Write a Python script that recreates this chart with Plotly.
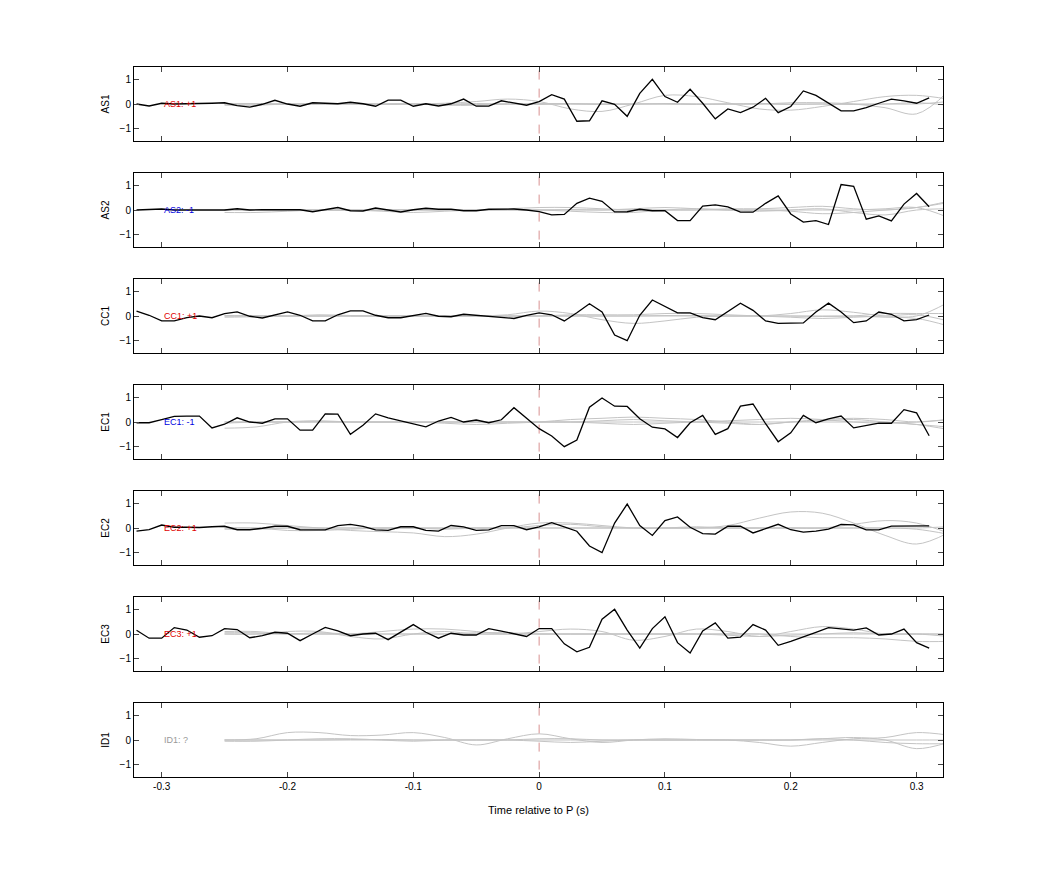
import numpy as np
import plotly.graph_objects as go

# station names, polarity labels and colours
stations = ['AS1', 'AS2', 'CC1', 'EC1', 'EC2', 'EC3', 'ID1']
labels = ['AS1: +1', 'AS2: -1', 'CC1: +1', 'EC1: -1', 'EC2: +1', 'EC3: +1', 'ID1: ?']
label_colors = ['#e00000', '#0000e0', '#e00000', '#0000e0', '#e00000', '#e00000', '#999999']

# time axis of the observed traces (s)
t_obs = np.round(np.arange(-0.32, 0.315, 0.01), 2)
# knots of the synthetic (grey) traces
t_syn = np.round(np.arange(-0.25, 0.33, 0.025), 3)

as1 = [0, -0.08, 0.03, 0, 0.01, 0.01, 0.03, 0.05, -0.07, -0.13, -0.01, 0.15, 0, -0.09, 0.05, 0.03,
       0.01, 0.07, 0.01, -0.09, 0.16, 0.16, -0.09, 0.01, -0.08, 0.01, 0.2, -0.09, -0.09, 0.13, 0.03, -0.05,
       0.1, 0.38, 0.2, -0.7, -0.68, 0.13, -0.01, -0.5, 0.43, 1.0, 0.3, 0.07, 0.6, 0.03, -0.6, -0.2,
       -0.35, -0.13, 0.23, -0.35, -0.1, 0.53, 0.35, 0.05, -0.28, -0.28, -0.15, 0.03, 0.2, 0.13, 0.03, 0.25]
as2 = [0, 0.03, 0.04, 0, 0, -0.03, 0, 0, 0.05, 0, 0.01, 0.01, 0.01, 0.01, -0.07, 0.03,
       0.1, -0.03, -0.04, 0.08, 0.01, -0.08, 0.01, 0.07, 0.03, 0.03, -0.03, -0.03, 0.03, 0.05, 0.04, 0,
       -0.07, -0.2, -0.18, 0.27, 0.48, 0.35, -0.08, -0.07, 0.03, -0.03, -0.03, -0.43, -0.43, 0.16, 0.21, 0.13,
       -0.09, -0.09, 0.27, 0.57, -0.16, -0.49, -0.43, -0.59, 1.03, 0.96, -0.37, -0.24, -0.44, 0.24, 0.67, 0.13]
cc1 = [0.2, 0.03, -0.2, -0.2, -0.07, 0, -0.07, 0.1, 0.17, -0.01, -0.08, 0.05, 0.17, 0.03, -0.2, -0.2,
       0.05, 0.21, 0.21, 0.03, -0.07, -0.07, 0.03, 0.11, -0.01, -0.03, 0.07, 0.03, -0.01, -0.07, -0.1, 0.03,
       0.13, 0.05, -0.2, 0.13, 0.5, 0.16, -0.77, -1.0, 0.03, 0.65, 0.4, 0.13, 0.13, -0.07, -0.15, 0.2,
       0.52, 0.23, -0.2, -0.3, -0.3, -0.28, 0.16, 0.52, 0.16, -0.27, -0.2, 0.16, 0.07, -0.2, -0.15, 0.04]
ec1 = [-0.03, -0.03, 0.1, 0.23, 0.24, 0.24, -0.24, -0.09, 0.17, 0, -0.05, 0.13, 0.13, -0.33, -0.33, 0.33,
       0.32, -0.5, -0.13, 0.33, 0.17, 0.04, -0.09, -0.2, 0.04, 0.19, 0, 0.08, -0.03, 0.09, 0.58, 0.17,
       -0.27, -0.57, -1.0, -0.73, 0.6, 0.97, 0.64, 0.63, 0.13, -0.21, -0.28, -0.63, -0.03, 0.27, -0.5, -0.27,
       0.64, 0.73, -0.07, -0.8, -0.44, 0.27, -0.03, 0.13, 0.24, -0.24, -0.16, -0.05, -0.05, 0.5, 0.37, -0.56]
ec2 = [-0.13, -0.07, 0.12, 0.03, 0.03, 0.02, 0.05, 0.07, -0.07, -0.07, -0.01, 0.07, 0.07, -0.07, -0.08, -0.08,
       0.1, 0.15, 0.07, -0.08, -0.1, 0.05, 0.05, -0.1, -0.13, 0.1, 0.05, -0.1, -0.08, 0.1, 0.1, -0.07,
       0.05, 0.22, 0.05, -0.13, -0.73, -1.0, 0.2, 0.97, 0.1, -0.3, 0.3, 0.45, 0.03, -0.23, -0.25, 0.07,
       0.07, -0.2, -0.03, 0.15, -0.07, -0.17, -0.13, -0.05, 0.15, 0.13, -0.08, -0.08, 0.08, 0.08, 0.09, 0.09]
ec3 = [0.15, -0.17, -0.17, 0.26, 0.16, -0.13, -0.07, 0.22, 0.18, -0.15, -0.07, 0.07, 0.03, -0.27, 0, 0.27,
       0.13, -0.07, 0, 0.03, -0.23, 0.07, 0.38, 0.07, -0.17, 0.03, -0.04, -0.04, 0.22, 0.12, 0, -0.1,
       0.22, 0.22, -0.4, -0.72, -0.54, 0.6, 1.0, 0.16, -0.57, 0.22, 0.7, -0.35, -0.77, 0.12, 0.45, -0.17,
       -0.13, 0.38, 0.16, -0.46, -0.3, -0.13, 0.07, 0.26, 0.2, 0.16, 0.25, -0.04, 0, 0.2, -0.35, -0.57]
observed = [as1, as2, cc1, ec1, ec2, ec3, None]

# synthetic traces (grey), four per station
syn_as1 = [[0, 0, 0, 0, 0, 0, 0, 0.03, 0.1, 0.2, 0.1, -0.2, -0.3, 0, 0.35, 0.3, 0.05, -0.2, -0.25, -0.1, 0.1, 0.3, 0.35, 0.2],
           [-0.05, -0.05, 0, 0, 0, 0, 0, -0.05, -0.05, 0, 0, 0, 0, 0, 0, 0, 0, 0, 0.05, 0.05, 0, -0.15, -0.4, 0.5],
           [0.02, 0.02, 0, 0, 0.02, 0, 0, 0, 0.02, 0, 0.02, 0.02, 0, 0, 0.02, 0, 0, 0.02, 0, 0, 0, 0, 0.05, -0.05],
           [-0.02, 0, -0.02, 0, 0, -0.02, 0, -0.02, -0.02, 0, -0.02, 0, -0.02, 0, 0, -0.02, 0, 0, -0.02, 0, -0.02, 0, 0, 0.1]]
syn_as2 = [[-0.1, -0.1, -0.05, 0, 0, -0.05, -0.1, -0.05, 0, 0.05, 0.1, 0.1, 0.05, 0, 0, 0, 0.05, 0.05, 0.1, 0.15, 0.05, 0, 0.1, 0.3],
           [0, 0, 0, 0, 0, 0, 0, 0, 0, 0, 0, -0.05, -0.1, -0.1, 0, 0.05, 0, -0.05, 0, 0.05, -0.1, -0.2, 0, 0.05],
           [0, 0, 0.02, 0, 0, 0, 0.02, 0, 0, 0.02, 0, 0.02, 0, 0.05, 0.1, 0.05, 0, 0, -0.05, -0.15, -0.1, 0, 0.1, 0.35],
           [0, 0.02, 0, 0, -0.02, 0, 0, 0, 0, 0, 0, 0, 0, 0, 0, 0, 0, 0, 0, 0, 0, 0.05, 0.1, -0.3]]
syn_cc1 = [[0, 0, 0, 0, 0, 0, 0, 0, 0, 0.05, 0.2, 0.1, -0.15, -0.3, -0.2, -0.05, 0, 0, 0.1, 0.25, 0.15, 0, 0, 0.55],
           [0, 0, 0, 0, 0, 0, 0, 0, 0, 0, 0, 0.05, 0.05, 0.05, 0.1, 0.1, 0.05, 0, -0.05, -0.1, -0.05, 0, 0.05, -0.2],
           [0.02, 0.02, 0, 0.05, 0.02, 0, 0, 0, 0, 0, 0, 0, 0, 0, 0.02, 0.02, 0, 0, 0, -0.02, 0, 0.1, 0.1, 0.1],
           [-0.05, -0.03, 0, 0, 0, 0, 0, 0, 0, 0, 0, 0, 0, 0, 0, 0, 0, 0, 0, 0, 0, -0.05, -0.1, -0.4]]
syn_ec1 = [[-0.25, -0.2, 0, 0.05, 0, 0, 0, -0.05, -0.1, -0.05, 0, 0.1, 0.15, 0.2, 0.15, 0.1, 0, -0.1, 0, 0.1, 0.15, 0.1, 0, 0.1],
           [0, 0, 0, 0, 0, 0, 0, 0, 0, 0, 0, 0, 0.05, 0.1, 0.05, 0, -0.05, -0.1, 0, 0.05, 0.1, 0, -0.1, -0.2],
           [0, 0, 0, 0.02, 0, 0, 0, 0, 0, 0, 0, 0, 0, 0, 0, 0, 0.05, 0.1, 0.15, 0.1, 0, -0.05, 0, 0.1],
           [-0.05, 0, 0, 0, 0, 0, 0, 0, 0, 0, 0, 0, -0.05, -0.1, -0.05, 0, 0, 0, 0, 0, 0, 0, -0.1, -0.3]]
syn_ec2 = [[0, 0, 0, 0, 0, 0, 0, 0, 0, 0, 0, 0, 0, 0, 0, 0, 0.1, 0.4, 0.65, 0.6, 0.2, -0.3, -0.65, -0.2],
           [0.2, 0.2, 0.1, 0, -0.1, -0.15, -0.2, -0.35, -0.25, 0, 0.2, 0.2, 0.1, 0, 0, 0, 0, 0, 0, 0, 0.15, 0.3, 0.2, -0.2],
           [0, 0, -0.1, -0.1, -0.05, 0, 0, -0.05, 0, 0, 0.1, 0.15, 0.05, 0, 0, 0.05, 0, 0, 0, 0, 0, 0, 0, 0.05],
           [-0.05, -0.05, 0, 0, 0, 0, 0, 0, 0, 0, 0, 0, 0, 0, 0, 0, 0, 0, 0, 0, 0, 0, -0.05, -0.25]]
syn_ec3 = [[0.1, 0.1, 0, 0, 0, 0.1, 0.2, 0.2, 0.1, 0, 0.1, 0.2, 0.1, -0.25, -0.1, 0.2, 0.1, -0.1, 0.1, 0.3, 0.2, 0, 0, 0],
           [0, 0, 0.1, 0.1, -0.1, -0.2, 0, 0.1, 0, 0, 0, 0, 0, 0, 0, 0, 0, 0, -0.1, -0.15, -0.15, -0.2, -0.3, -0.3],
           [0, 0, 0, 0, 0, 0, 0, 0, 0, 0, 0, 0, 0, 0, 0, 0, 0, 0, 0, 0, 0, 0, 0, 0],
           [0.05, 0.05, 0, 0.05, 0, 0, 0, 0, 0.05, 0.05, 0, 0, 0, 0, 0, 0, -0.05, -0.1, -0.05, 0, 0.05, 0, 0, -0.1]]
syn_id1 = [[0, 0.05, 0.3, 0.3, 0.18, 0.2, 0.3, 0.1, -0.2, 0.05, 0.25, 0.05, -0.1, 0, 0.05, 0.02, 0, -0.1, -0.25, -0.1, 0.05, 0.1, 0.3, 0.2],
           [-0.05, -0.05, 0, 0.05, 0.05, 0, -0.05, 0, 0, 0, 0.05, 0.05, 0, 0, 0, 0, 0, 0, 0, 0.05, 0.1, 0, -0.35, -0.1],
           [0, 0, 0, 0, 0, 0, 0, 0, 0, 0, 0, 0, 0, 0, 0, 0, 0, 0, 0, 0, 0, 0, 0, 0],
           [0, 0, 0, 0, 0.02, 0.02, 0, 0, 0, 0, -0.05, -0.1, -0.05, 0, 0, 0, 0, 0, 0, 0.05, 0, -0.1, -0.15, -0.15]]
synthetic = [syn_as1, syn_as2, syn_cc1, syn_ec1, syn_ec2, syn_ec3, syn_id1]

W, H = 1042, 875
off = 8  # page body margin of the html
left, right = (134 - off) / W, (943 - off) / W
tops = [67, 173, 279, 385, 491, 597, 703]
panel_h = 74
font = 'Liberation Sans, Arial, sans-serif'

fig = go.Figure()
layout = dict(width=W, height=H, margin=dict(l=0, r=0, t=0, b=0),
              plot_bgcolor='white', paper_bgcolor='white', showlegend=False,
              font=dict(family=font, size=10, color='black'))

for i, st in enumerate(stations):
    n = '' if i == 0 else str(i + 1)
    xa, ya = 'x' + n, 'y' + n
    for syn in synthetic[i]:
        fig.add_trace(go.Scatter(x=t_syn, y=syn, mode='lines', line=dict(color='#c4c4c4', width=1, shape='spline'),
                                 xaxis=xa, yaxis=ya, hoverinfo='skip'))
    if observed[i] is not None:
        fig.add_trace(go.Scatter(x=t_obs, y=observed[i], mode='lines', line=dict(color='black', width=1.3),
                                 xaxis=xa, yaxis=ya))
    fig.add_shape(type='line', x0=0, x1=0, y0=-1.2, y1=1.5, xref=xa, yref=ya,
                  line=dict(color='#d89090', width=1, dash='dash'), layer='below')
    fig.add_annotation(x=-0.3, y=0, xref=xa, yref=ya, text=labels[i], showarrow=False,
                       xanchor='left', font=dict(size=9, color=label_colors[i]))
    y_top = 1 - (tops[i] - off) / H
    y_bot = 1 - (tops[i] - off + panel_h) / H
    last = i == len(stations) - 1
    layout['xaxis' + n] = dict(domain=[left, right], anchor=ya, range=[-0.322, 0.321],
                               tickvals=[-0.3, -0.2, -0.1, 0, 0.1, 0.2, 0.3],
                               ticktext=['-0.3', '-0.2', '-0.1', '0', '0.1', '0.2', '0.3'],
                               showticklabels=last, ticks='inside', ticklen=5, mirror='allticks',
                               showline=True, linecolor='black', linewidth=1, showgrid=False,
                               zeroline=False, automargin=False,
                               title=dict(text='Time relative to P (s)', font=dict(size=11)) if last else None)
    layout['yaxis' + n] = dict(domain=[y_bot, y_top], anchor=xa, range=[-1.5, 1.5],
                               tickvals=[-1, 0, 1], ticks='inside', ticklen=5, mirror='allticks',
                               showline=True, linecolor='black', linewidth=1, showgrid=False,
                               zeroline=False, automargin=False,
                               title=dict(text=st, font=dict(size=10), standoff=8))

fig.update_layout(**layout)
fig.write_html('out.html')
